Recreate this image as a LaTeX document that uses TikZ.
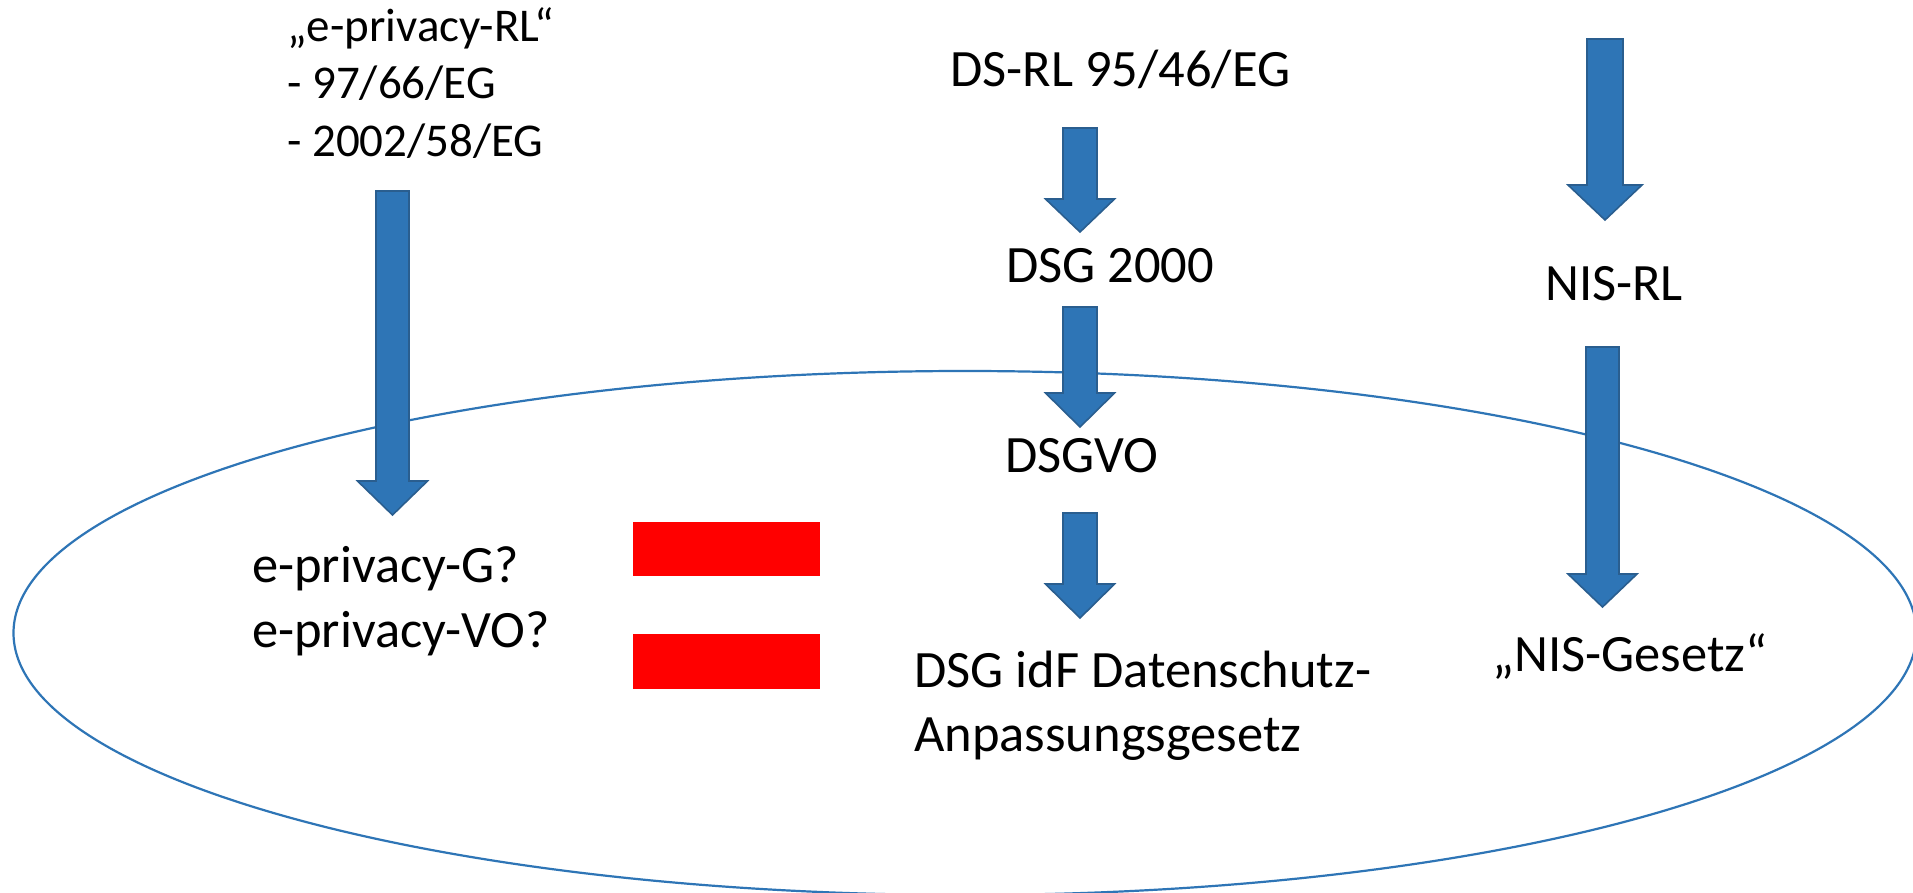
\documentclass[tikz,border=0pt]{standalone}
\usepackage{fontspec}
\setmainfont{Carlito}
\definecolor{arrowblue}{HTML}{2E75B6}
\definecolor{arrowedge}{HTML}{2A5E8F}
\definecolor{ellblue}{HTML}{2E75B6}
\definecolor{barred}{HTML}{FF0000}
% #1 centre x, #2 top y, #3 y of head base, #4 tip y, #5 half shaft width, #6 half head width
\newcommand\blockarrow[6]{%
  \path[barrowstyle] ({#1-#5},#2) -- ({#1+#5},#2) -- ({#1+#5},#3) -- ({#1+#6},#3)
    -- (#1,#4) -- ({#1-#6},#3) -- ({#1-#5},#3) -- cycle;}
\tikzset{
  barrowstyle/.style={fill=arrowblue, draw=arrowedge, line width=1.6pt, line join=miter},
  lbl/.style={font=\fontsize{52.5}{64}\selectfont, inner sep=0pt},
  smalllbl/.style={font=\fontsize{47}{57}\selectfont, inner sep=0pt},
  eqbar/.style={fill=barred, draw=none},
}
\begin{document}
\begin{tikzpicture}[x=1pt,y=-1pt]
\useasboundingbox (0,0) rectangle (1913,893);
\fill[white] (0,0) rectangle (1913,893);
% scope ellipse
\draw[ellblue, line width=2.2pt] (965,633) ellipse [x radius=951.5, y radius=262];
% arrows
\blockarrow{392.5}{191}{481}{515}{16.5}{35}
\blockarrow{1080}{128}{199}{232}{17}{34.5}
\blockarrow{1080}{307}{393}{427}{17}{34.5}
\blockarrow{1080}{513}{584}{618}{17}{34.5}
\blockarrow{1605}{39}{185}{220}{18}{37}
\blockarrow{1602.5}{347}{574}{607}{16.5}{34.5}
% equals sign
\path[eqbar] (633,522) rectangle (820,576);
\path[eqbar] (633,634) rectangle (820,689);
% texts
\node[smalllbl, anchor=base west] (rl1) at (287,42) {„e-privacy-RL“};
\node[smalllbl, anchor=base west] (rl2) at (287,99) {- 97/66/EG};
\node[smalllbl, anchor=base west] (rl3) at (287,157) {- 2002/58/EG};
\node[lbl, anchor=base] (dsrl) at (1120.5,87) {DS-RL 95/46/EG};
\node[lbl, anchor=base] (dsg) at (1110,283) {DSG 2000};
\node[lbl, anchor=base] (dsgvo) at (1082,472) {DSGVO};
\node[lbl, anchor=base west] (idf1) at (914,687) {DSG idF Datenschutz-};
\node[lbl, anchor=base west] (idf2) at (914,751) {Anpassungsgesetz};
\node[lbl, anchor=base] (nisrl) at (1614,300) {NIS-RL};
\node[lbl, anchor=base] (nisg) at (1630,671) {„NIS-Gesetz“};
\node[lbl, anchor=base west] (epg) at (252,582) {e-privacy-G?};
\node[lbl, anchor=base west] (epvo) at (252,647) {e-privacy-VO?};
\end{tikzpicture}
\end{document}
